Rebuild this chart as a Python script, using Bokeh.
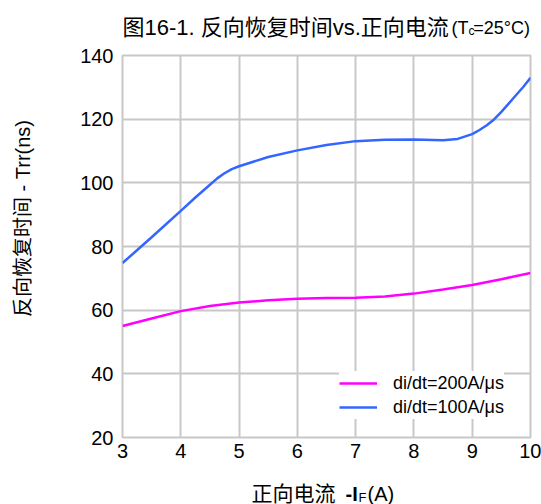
from bokeh.plotting import figure
from bokeh.models import Range1d, FixedTicker, Label, Legend, LegendItem
from bokeh.embed import file_html
from bokeh.resources import INLINE
import math

# data
x_200 = [3, 3.5, 4, 4.5, 5, 5.5, 6, 6.5, 7, 7.5, 8, 8.5, 9, 9.5, 10]
trr_200 = [55.0, 57.4, 59.7, 61.3, 62.4, 63.1, 63.6, 63.8, 63.9, 64.3, 65.2, 66.5, 67.9, 69.7, 71.7]

x_100 = [3, 3.5, 4, 4.25, 4.5, 4.625, 4.75, 4.875, 5, 5.5, 6, 6.5, 7, 7.5, 8, 8.5, 8.75, 9,
         9.125, 9.25, 9.375, 9.5, 9.625, 9.75, 9.875, 10]
trr_100 = [74.8, 82.9, 91.2, 95.4, 99.4, 101.4, 103.0, 104.3, 105.2, 108.1, 110.2, 111.9, 113.1,
           113.5, 113.6, 113.4, 113.8, 115.3, 116.6, 118.1, 119.9, 122.3, 124.9, 127.5, 130.1, 133.0]

x_ticks = [3, 4, 5, 6, 7, 8, 9, 10]
y_ticks = [20, 40, 60, 80, 100, 120, 140]
series_labels = ["di/dt=200A/\u03bcs", "di/dt=100A/\u03bcs"]

LAT = "Liberation Sans"
MIX = "Liberation Sans, Noto Sans CJK SC"
GRID = "#c8c8c8"

p = figure(width=541, height=504, output_backend="svg", toolbar_location=None,
           x_range=Range1d(3, 10), y_range=Range1d(20, 140),
           min_border_left=122, min_border_right=11, min_border_top=55, min_border_bottom=67)
p.background_fill_color = "white"
p.border_fill_color = "white"
p.outline_line_color = GRID
p.outline_line_width = 2

for ax in (p.xaxis[0], p.yaxis[0]):
    ax.axis_line_color = None
    ax.major_tick_line_color = None
    ax.minor_tick_line_color = None
    ax.major_tick_in = 0
    ax.major_tick_out = 0
    ax.minor_tick_in = 0
    ax.minor_tick_out = 0
    ax.major_label_text_font = LAT
    ax.major_label_text_font_size = "20px"
    ax.major_label_text_color = "black"
p.xaxis[0].ticker = FixedTicker(ticks=x_ticks)
p.yaxis[0].ticker = FixedTicker(ticks=y_ticks)
p.xaxis[0].major_label_standoff = 6
p.yaxis[0].major_label_standoff = 9

p.xgrid[0].ticker = FixedTicker(ticks=x_ticks)
p.ygrid[0].ticker = FixedTicker(ticks=y_ticks)
for g in (p.xgrid[0], p.ygrid[0]):
    g.grid_line_color = GRID
    g.grid_line_width = 2
    g.grid_line_alpha = 1

r200 = p.line(x_200, trr_200, line_color="#ff00ff", line_width=2.5)
r100 = p.line(x_100, trr_100, line_color="#3366ff", line_width=2.5)

legend = Legend(items=[LegendItem(label=series_labels[0], renderers=[r200]),
                       LegendItem(label=series_labels[1], renderers=[r100])],
                location=(217, 18), orientation="vertical")
legend.border_line_color = None
legend.background_fill_color = "white"
legend.background_fill_alpha = 1
legend.label_text_font = LAT
legend.label_text_font_size = "18px"
legend.label_text_color = "black"
legend.glyph_width = 38
legend.glyph_height = 24
legend.label_height = 24
legend.label_standoff = 16
legend.spacing = 0
legend.padding = 4
legend.margin = 0
p.add_layout(legend, "center")


def lab(side, cx, cy, text, font, size, style="normal", angle=0.0, align="left",
        baseline="alphabetic"):
    # canvas units: x from the left edge, y from the top edge of the page
    p.add_layout(Label(x=cx, y=cy, x_units="canvas", y_units="canvas",
                       text=text, text_font=font, text_font_size=size, text_font_style=style,
                       angle=angle, text_baseline=baseline, text_align=align,
                       text_color="black"), side)

# title
lab("above", 122, 27, "图16-1. 反向恢复时间vs.正向电流", MIX, "22px")
lab("above", 451, 27, "(T =25°C)", LAT, "18px")
lab("left", 468, 30, "c", LAT, "12px")

# x axis label
lab("below", 251, 493, "正向电流", MIX, "21px")
lab("left", 345, 493, "-I", LAT, "20px", style="bold")
lab("left", 358, 497, "F", LAT, "13px")
lab("left", 367, 493, "(A)", LAT, "20px")

# y axis label
lab("left", 22, 218, "反向恢复时间 - Trr(ns)", MIX, "20px", angle=math.pi / 2,
    align="center", baseline="middle")

open("out.html", "w").write(file_html(p, INLINE))
